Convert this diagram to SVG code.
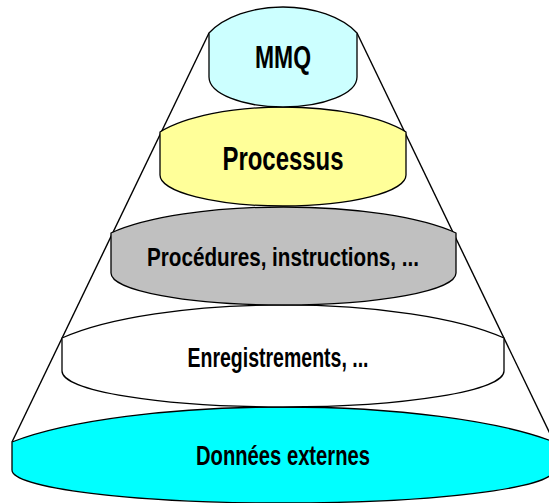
<svg xmlns="http://www.w3.org/2000/svg" width="549" height="503" viewBox="0 0 549 503">
  <style>
    .tier { stroke: #000; stroke-width: 1.3; stroke-linejoin: round; }
    .cone { stroke: #000; stroke-width: 1.4; fill: none; }
    .lbl { font-family: "Liberation Sans Narrow", "Liberation Sans", Arial, sans-serif; font-weight: bold; fill: #000; text-anchor: middle; }
  </style>
  <rect width="549" height="503" fill="#fff"/>

  <!-- cone outline -->
  <g id="connectors">
    <line class="cone" x1="209" y1="33" x2="12" y2="442"/>
    <line class="cone" x1="357" y1="33" x2="554" y2="442"/>
  </g>

  <!-- tiers, bottom to top -->
  <g id="donnees">
    <path class="tier" fill="#00FFFF" d="M12,442 A311.7,69.2 0 0 1 554,442 L554,470 A271,33 0 0 1 12,470 Z"/>
    <text class="lbl" x="283" y="465" font-size="27" textLength="174" lengthAdjust="spacingAndGlyphs">Données externes</text>
  </g>

  <g id="enregistrements">
    <path class="tier" fill="#FFFFFF" d="M62,338 A254,65.2 0 0 1 504,338 L504,371 A221,36 0 0 1 62,371 Z"/>
    <text class="lbl" x="278" y="367" font-size="27" textLength="181" lengthAdjust="spacingAndGlyphs">Enregistrements, ...</text>
  </g>

  <g id="procedures">
    <path class="tier" fill="#C0C0C0" d="M111,233 A198.4,51.4 0 0 1 456,233 L456,273 A172.5,32 0 0 1 111,273 Z"/>
    <text class="lbl" x="283" y="266" font-size="26" textLength="272" lengthAdjust="spacingAndGlyphs">Procédures, instructions, ...</text>
  </g>

  <g id="processus">
    <path class="tier" fill="#FFFF99" d="M160,132 A141.5,49.4 0 0 1 406,132 L406,175 A123,31 0 0 1 160,175 Z"/>
    <text class="lbl" x="283" y="170" font-size="33" textLength="121" lengthAdjust="spacingAndGlyphs">Processus</text>
  </g>

  <g id="mmq">
    <path class="tier" fill="#CCFFFF" d="M209,33 A85.1,51.4 0 0 1 357,33 L357,77 A74,30 0 0 1 209,77 Z"/>
    <text class="lbl" x="283" y="68" font-size="32" textLength="56" lengthAdjust="spacingAndGlyphs">MMQ</text>
  </g>
</svg>
